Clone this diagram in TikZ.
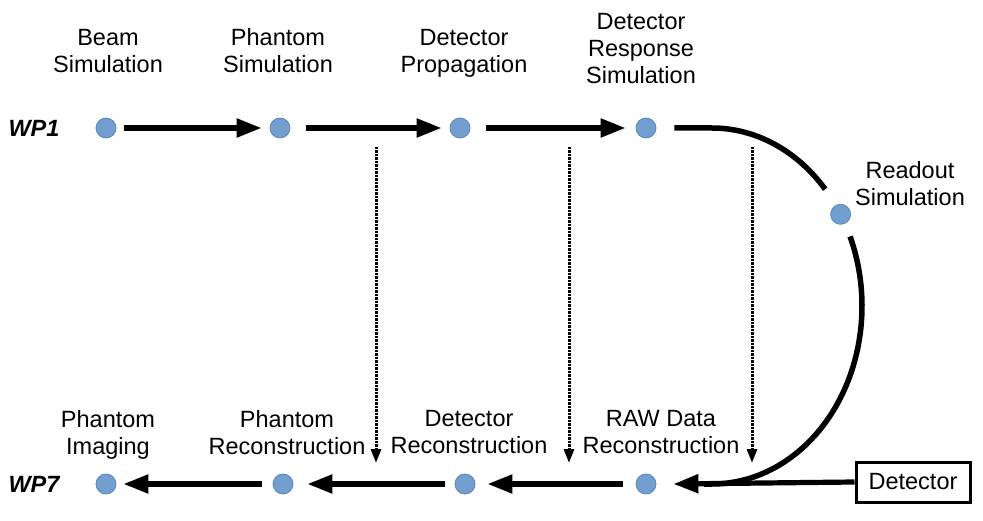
\documentclass[tikz,border=0pt]{standalone}
\usepackage{fontspec}
\setmainfont{Liberation Sans}
\usetikzlibrary{arrows.meta}
\definecolor{dotfill}{HTML}{729FCF}
\definecolor{dotline}{HTML}{5B86B8}
\begin{document}
\begin{tikzpicture}[x=1pt,y=1pt,
  dot/.style={circle,fill=dotfill,draw=dotline,line width=0.8pt,minimum size=20pt,inner sep=0pt},
  lbl/.style={font=\fontsize{23.5}{27}\selectfont,align=center,inner sep=0pt},
  wp/.style={font=\fontsize{23.5}{27}\selectfont\bfseries\itshape,inner sep=0pt},
  flow/.style={line width=5.2pt,-{Triangle[length=25pt,width=18pt]}},
  curveline/.style={line width=5.5pt},
  dotarrow/.style={line width=3pt,dash pattern=on 2.2pt off 1.3pt,-{Triangle[length=14pt,width=10pt]}},
  boxnode/.style={draw,line width=3pt,minimum width=114pt,minimum height=40pt,inner sep=0pt,font=\fontsize{23.5}{27}\selectfont}]
\useasboundingbox (0,0) rectangle (983,520);
% dots
\node[dot] (t1) at (106,392) {};
\node[dot] (t2) at (280,392) {};
\node[dot] (t3) at (460,392) {};
\node[dot] (t4) at (646,392) {};
\node[dot] (ro) at (840.6,305.7) {};
\node[dot] (b1) at (106,36) {};
\node[dot] (b2) at (283,36) {};
\node[dot] (b3) at (465,36) {};
\node[dot] (b4) at (646,36) {};
\node[boxnode] (det) at (913,38) {Detector};
% labels
\node[wp] (wp1) at (34,392) {WP1};
\node[wp] (wp7) at (34,36) {WP7};
\node[lbl] (l1) at (108,469) {Beam\\Simulation};
\node[lbl] (l2) at (278,469) {Phantom\\Simulation};
\node[lbl] (l3) at (464,467) {Detector\\Propagation};
\node[lbl] (l4) at (641,471) {Detector\\Response\\Simulation};
\node[lbl] (l5) at (910,336.5) {Readout\\Simulation};
\node[lbl] (l6) at (108,85.5) {Phantom\\Imaging};
\node[lbl] (l7) at (287,87.5) {Phantom\\Reconstruction};
\node[lbl] (l8) at (469,87.5) {Detector\\Reconstruction};
\node[lbl] (l9) at (661,87.5) {RAW Data\\Reconstruction};
% top arrows
\draw[flow] ([xshift=8pt]t1.east) -- ([xshift=-8pt]t2.west);
\draw[flow] ([xshift=16pt]t2.east) -- ([xshift=-8pt]t3.west);
\draw[flow] ([xshift=16pt]t3.east) -- ([xshift=-10pt]t4.west);
% readout curve
\coordinate (ellc) at (712,214);
\draw[curveline] ([xshift=18pt]t4.east) -- (712,392) arc[start angle=90,end angle=41,x radius=150,y radius=178];
\draw[curveline] ([shift={(23:150 and 178)}]ellc) arc[start angle=23,end angle=-90,x radius=150,y radius=178] -- ++(-8,0);
% bottom arrows
\draw[flow] (det.west) -- ([xshift=17pt]b4.east);
\draw[flow] ([xshift=-13pt]b4.west) -- ([xshift=12pt]b3.east);
\draw[flow] ([xshift=-10pt]b3.west) -- ([xshift=14pt]b2.east);
\draw[flow] ([xshift=-11pt]b2.west) -- ([xshift=7pt]b1.east);
% dotted arrows
\coordinate (d1s) at (376,373); \coordinate (d1e) at (376,57);
\coordinate (d2s) at (569,373); \coordinate (d2e) at (569,57);
\coordinate (d3s) at (752,373); \coordinate (d3e) at (752,57);
\draw[dotarrow] (d1s) -- (d1e);
\draw[dotarrow] (d2s) -- (d2e);
\draw[dotarrow] (d3s) -- (d3e);
\end{tikzpicture}
\end{document}
